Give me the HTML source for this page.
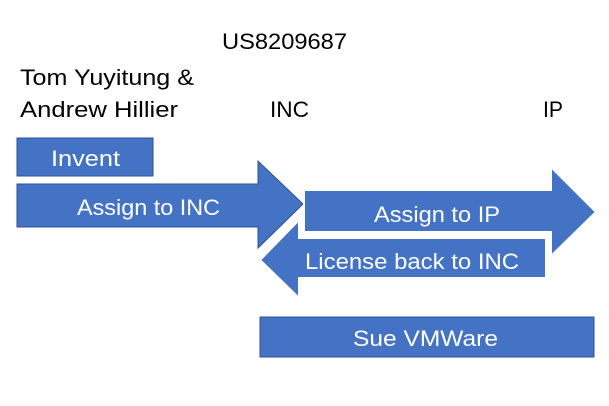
<!DOCTYPE html>
<html><head><meta charset="utf-8"><style>
html,body{margin:0;padding:0;background:#fff;}
svg{display:block;}
text{font-family:"Liberation Sans",sans-serif;font-size:22px;}
.w{fill:#fff;}
</style></head><body>
<svg width="609" height="406" viewBox="0 0 609 406" xmlns="http://www.w3.org/2000/svg">
<text x="222" y="49" textLength="125" lengthAdjust="spacingAndGlyphs">US8209687</text>
<text x="20" y="85" textLength="174" lengthAdjust="spacingAndGlyphs">Tom Yuyitung &amp;</text>
<text x="20" y="117" textLength="158" lengthAdjust="spacingAndGlyphs">Andrew Hillier</text>
<text x="270" y="117" textLength="39" lengthAdjust="spacingAndGlyphs">INC</text>
<text x="543" y="117" textLength="20" lengthAdjust="spacingAndGlyphs">IP</text>

<g fill="#4472c4" stroke="#2f528f" stroke-width="1">
<rect x="17" y="138" width="136" height="38"/>
<polygon points="17,184 258,184 258,161 303,204 258,248 258,227 17,227"/>
<polygon points="260,260 299,220 299,238 546,238 546,278 299,278 299,298" stroke="#fff" stroke-width="2"/>
<polygon points="304,190 551,190 551,167 596,212 551,256 551,232 304,232" stroke="#fff" stroke-width="2"/>
<rect x="260" y="317" width="334" height="40"/>
</g>
<text class="w" x="77" y="215" textLength="143" lengthAdjust="spacingAndGlyphs">Assign to INC</text>
<text class="w" x="51" y="166" textLength="69" lengthAdjust="spacingAndGlyphs">Invent</text>
<text class="w" x="374" y="222" textLength="126" lengthAdjust="spacingAndGlyphs">Assign to IP</text>
<text class="w" x="305" y="269" textLength="214" lengthAdjust="spacingAndGlyphs">License back to INC</text>
<text class="w" x="353" y="346" textLength="145" lengthAdjust="spacingAndGlyphs">Sue VMWare</text>
</svg>
</body></html>
